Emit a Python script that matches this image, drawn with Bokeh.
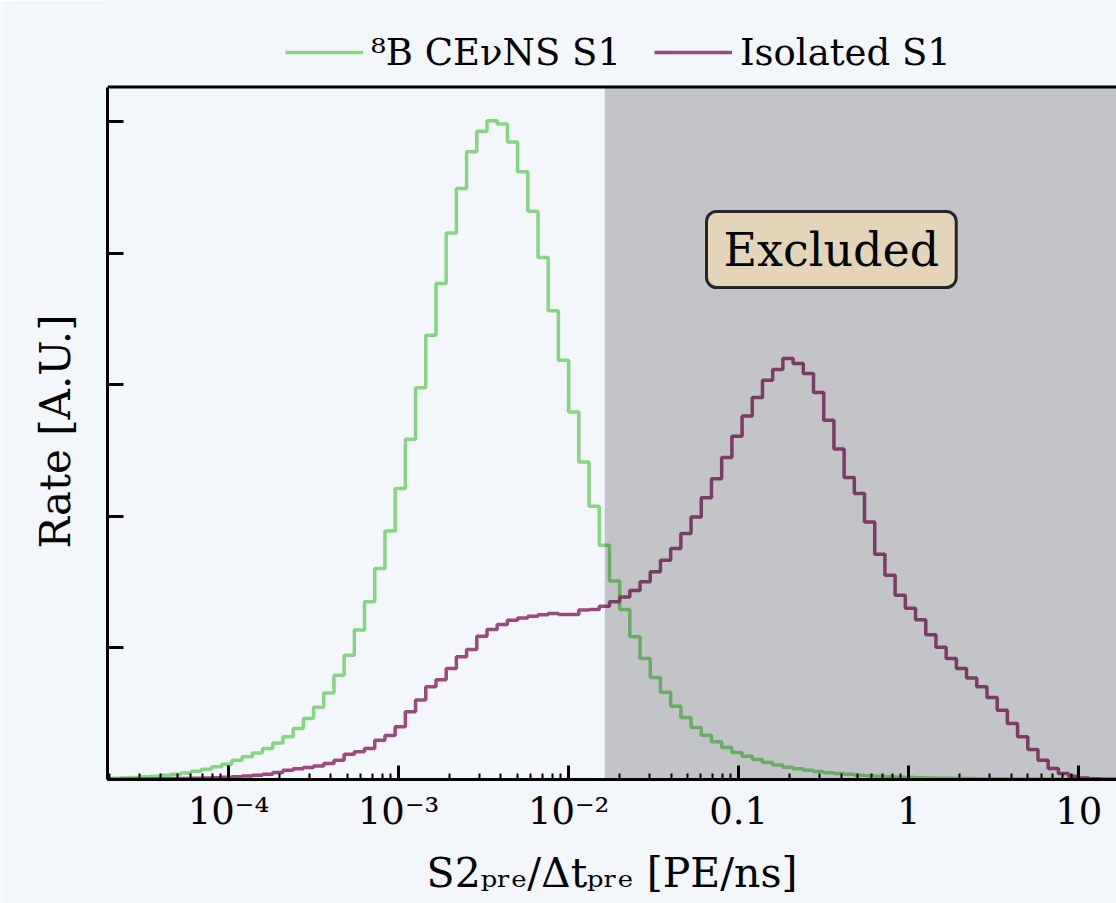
import numpy as np
from bokeh.plotting import figure
from bokeh.models import (Range1d, FixedTicker, BoxAnnotation, Label, Span, Title,
                          Legend, LegendItem, CustomJSTickFormatter)
from bokeh.embed import file_html
from bokeh.resources import INLINE

# ---------------- data ----------------
# histogram binning: log10 edges start at -5, 0.06 decade wide bins
LOG_EDGE_START = -5.0
LOG_BIN_WIDTH = 0.06

green_counts = [
    0.003, 0.004, 0.004, 0.005,
    0.007, 0.009, 0.012, 0.015, 0.020, 0.025, 0.032, 0.040, 0.050, 0.063,
    0.078, 0.096, 0.116, 0.147, 0.172, 0.202, 0.236, 0.278, 0.324, 0.388,
    0.464, 0.549, 0.658, 0.793, 0.945, 1.135, 1.350, 1.603, 1.889, 2.211,
    2.586, 2.976, 3.376, 3.769, 4.153, 4.491, 4.769, 4.926, 5.005, 4.980,
    4.843, 4.617, 4.318, 3.967, 3.561, 3.186, 2.793, 2.413, 2.077, 1.780,
    1.509, 1.292, 1.084, 0.919, 0.775, 0.663, 0.557, 0.471, 0.395, 0.337,
    0.286, 0.243, 0.205, 0.177, 0.152, 0.129, 0.111, 0.093, 0.081, 0.071,
    0.060, 0.052, 0.045, 0.039, 0.033, 0.028, 0.024, 0.021, 0.018, 0.015,
    0.013, 0.011, 0.010, 0.009, 0.008, 0.007, 0.006, 0.005, 0.005, 0.004,
    0.004, 0.003, 0.003, 0.003, 0.002, 0.002, 0.002, 0.001, 0.001, 0.001,
]

purple_counts = [
    0.001, 0.001, 0.001, 0.001,
    0.002, 0.002, 0.003, 0.003, 0.004, 0.005, 0.006, 0.007, 0.008, 0.010,
    0.012, 0.014, 0.017, 0.021, 0.026, 0.032, 0.040, 0.053, 0.071, 0.081,
    0.091, 0.103, 0.122, 0.147, 0.192, 0.210, 0.236, 0.299, 0.334, 0.400,
    0.514, 0.605, 0.704, 0.758, 0.843, 0.932, 0.988, 1.089, 1.140, 1.178,
    1.210, 1.228, 1.241, 1.251, 1.261, 1.254, 1.254, 1.288, 1.292, 1.317,
    1.350, 1.386, 1.436, 1.502, 1.578, 1.666, 1.755, 1.869, 1.995, 2.140,
    2.285, 2.447, 2.609, 2.761, 2.903, 3.034, 3.116, 3.199, 3.161, 3.085,
    2.941, 2.730, 2.512, 2.295, 2.173, 1.957, 1.712, 1.552, 1.400, 1.302,
    1.213, 1.100, 1.005, 0.919, 0.843, 0.772, 0.704, 0.623, 0.527, 0.426,
    0.324, 0.228, 0.147, 0.084, 0.046, 0.025, 0.012, 0.005, 0.002, 0.001,
]

series_labels = ["\u2078B CE\u03bdNS S1", "Isolated S1"]

x_tick_values = [1e-4, 1e-3, 1e-2, 0.1, 1.0, 10.0]
x_tick_labels = ["10\u207b\u2074", "10\u207b\u00b3", "10\u207b\u00b2", "0.1", "1", "10"]
y_tick_values = [0, 1, 2, 3, 4, 5]

exclusion_start = 0.0163
excluded_text = "Excluded"
x_label = "S2\u209a\u1d63\u2091/\u0394t\u209a\u1d63\u2091 [PE/ns]"
y_label = "Rate [A.U.]"

# ---------------- styling / layout ----------------
BG = "#f3f6fb"
GREEN = "#85d680"
PURPLE = "#9c4a7b"
FONT = "DejaVu Serif"

X_START_LOG = -4.7115
X_END_LOG = 1.2217
Y_SPINE = 5.261          # top of the axes box
Y_END = 5.919            # frame extends above the box to hold the legend
EXCL_LABEL_X = 0.3508
EXCL_LABEL_Y = 4.027


def step_xy(counts):
    n = len(counts)
    edges = 10 ** (LOG_EDGE_START + LOG_BIN_WIDTH * np.arange(n + 1))
    xs = np.concatenate([[edges[0]], np.repeat(edges, 2)[1:-1], [edges[-1]]])
    ys = np.concatenate([[0.0], np.repeat(np.asarray(counts, float), 2), [0.0]])
    return xs, ys


p = figure(width=1116, height=903, x_axis_type="log",
           x_range=Range1d(10 ** X_START_LOG, 10 ** X_END_LOG),
           y_range=Range1d(0, Y_END),
           output_backend="svg", toolbar_location=None,
           min_border_left=107, min_border_right=0,
           min_border_top=0, min_border_bottom=124,
           background_fill_color=BG, border_fill_color=BG,
           outline_line_color=None)
p.grid.visible = False

gx, gy = step_xy(green_counts)
px, py = step_xy(purple_counts)
g_line = p.line(gx, gy, line_color=GREEN, line_width=3.5)
p_line = p.line(px, py, line_color=PURPLE, line_width=3.5)

# x axis
minor = [m * 10.0 ** e for e in range(-5, 2) for m in range(2, 10)]
xa = p.xaxis[0]
xa.ticker = FixedTicker(ticks=x_tick_values, minor_ticks=minor)
xa.formatter = CustomJSTickFormatter(
    args=dict(vals=x_tick_values, labs=x_tick_labels),
    code="""
    for (let i = 0; i < vals.length; i++) {
        if (Math.abs(Math.log10(vals[i]) - Math.log10(tick)) < 1e-6) return labs[i];
    }
    return "";
    """)
xa.major_tick_in = 14
xa.major_tick_out = 0
xa.minor_tick_in = 6
xa.minor_tick_out = 0
xa.major_tick_line_width = 3
xa.minor_tick_line_width = 2
xa.axis_line_width = 3
xa.major_label_text_font = FONT
xa.major_label_text_font_size = "37px"
xa.major_label_text_color = "black"
xa.major_label_standoff = 10
xa.axis_label = x_label
xa.axis_label_text_font = FONT
xa.axis_label_text_font_size = "41px"
xa.axis_label_text_font_style = "normal"
xa.axis_label_text_color = "black"
xa.axis_label_standoff = 13

# y axis (no labels); spine limited to the axes box
ya = p.yaxis[0]
ya.ticker = FixedTicker(ticks=y_tick_values, minor_ticks=[])
ya.formatter = CustomJSTickFormatter(code="return '';")
ya.bounds = (0, Y_SPINE)
ya.major_tick_in = 16
ya.major_tick_out = 0
ya.minor_tick_in = 0
ya.minor_tick_out = 0
ya.major_tick_line_width = 3
ya.axis_line_width = 3
ya.major_label_standoff = 0

# y label as a left title, positioned on the axes box
p.add_layout(Title(text=y_label, align="left", offset=231,
                   text_font=FONT, text_font_size="42px", text_font_style="normal",
                   text_color="black", standoff=56, vertical_align="bottom"), "left")

# excluded region overlay
p.add_layout(BoxAnnotation(left=exclusion_start, bottom=0, top=Y_SPINE,
                           fill_color="black", fill_alpha=0.2, line_alpha=0))
# top spine
p.add_layout(Span(location=Y_SPINE, dimension="width", line_color="black", line_width=3))

p.add_layout(Label(x=EXCL_LABEL_X, y=EXCL_LABEL_Y, text=excluded_text,
                   text_align="center", text_baseline="middle",
                   text_font=FONT, text_font_size="46px", text_color="black",
                   background_fill_color="#e4d5b8", border_line_color="#262626",
                   border_line_width=3, padding=dict(left=17, right=17, top=11, bottom=11),
                   border_radius=10))

legend = Legend(items=[LegendItem(label=series_labels[0], renderers=[g_line]),
                       LegendItem(label=series_labels[1], renderers=[p_line])],
                orientation="horizontal", location=(178, 702),
                label_text_font=FONT, label_text_font_size="37px",
                label_text_color="black",
                glyph_width=78, glyph_height=50, label_standoff=8, spacing=33,
                padding=0, margin=0, border_line_alpha=0, background_fill_alpha=0)
p.add_layout(legend)

open("out.html", "w").write(file_html(p, INLINE))
